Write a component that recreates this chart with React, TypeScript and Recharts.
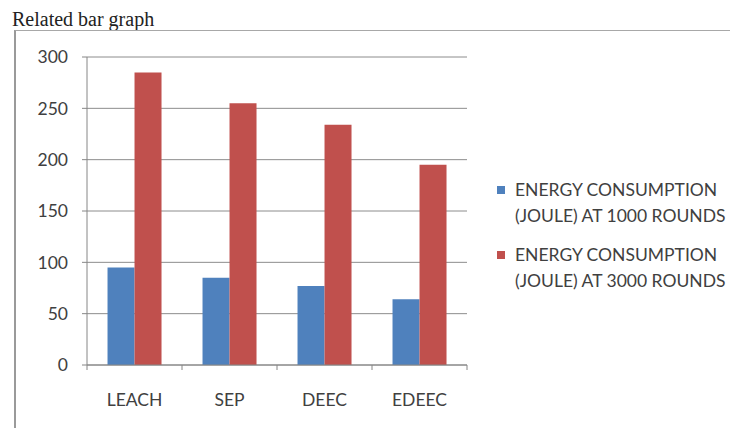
import React from 'react';
import { BarChart, Bar, XAxis, YAxis, CartesianGrid, Legend } from 'recharts';

const protocols = ['LEACH', 'SEP', 'DEEC', 'EDEEC'];
const energyAt1000 = [95, 85, 77, 64];
const energyAt3000 = [285, 255, 234, 195];
const yTicks = [0, 50, 100, 150, 200, 250, 300];
const seriesNames = [
  ['ENERGY CONSUMPTION', '(JOULE) AT 1000 ROUNDS'],
  ['ENERGY CONSUMPTION', '(JOULE) AT 3000 ROUNDS'],
];

const BLUE = '#4F81BD';
const RED = '#C0504D';
const AXIS_FONT = 'Lato, "Open Sans", sans-serif';

const data = protocols.map((name, i) => ({
  name,
  e1000: energyAt1000[i],
  e3000: energyAt3000[i],
}));

// category tick: label below, small marks on the band boundaries
const CategoryTick = (props: any) => {
  const { x, y, payload, index, width } = props;
  const half = width / protocols.length / 2;
  const axisY = y - 8;
  return (
    <g>
      <line x1={x - half} y1={axisY} x2={x - half} y2={axisY + 5} stroke="#868686" />
      {index === protocols.length - 1 && (
        <line x1={x + half} y1={axisY} x2={x + half} y2={axisY + 5} stroke="#868686" />
      )}
      <text x={x} y={axisY + 41} textAnchor="middle" fill="#404040" fontSize={17.5} fontFamily={AXIS_FONT}>
        {payload.value}
      </text>
    </g>
  );
};

const LegendBox = () => (
  <div style={{ fontFamily: AXIS_FONT, fontSize: 17.5, color: '#404040', lineHeight: '26px', whiteSpace: 'nowrap' }}>
    {seriesNames.map((lines, i) => (
      <div key={i} style={{ display: 'flex', alignItems: 'flex-start', marginBottom: i === 0 ? 13 : 0 }}>
        <span
          style={{
            display: 'inline-block',
            width: 8,
            height: 8,
            marginTop: 9,
            marginRight: 10,
            background: i === 0 ? BLUE : RED,
          }}
        />
        <div>
          {lines.map((l) => (
            <div key={l}>{l}</div>
          ))}
        </div>
      </div>
    ))}
  </div>
);

export default function App() {
  return (
    <div style={{ position: 'relative', margin: -8, width: 738, height: 436, background: '#fff', overflow: 'hidden' }}>
      <div
        style={{
          position: 'absolute',
          left: 12,
          top: 8,
          lineHeight: '23px',
          fontFamily: '"Liberation Serif", serif',
          fontSize: 20,
          color: '#222',
        }}
      >
        Related bar graph
      </div>
      <div
        style={{
          position: 'absolute',
          left: 14,
          top: 30,
          width: 740,
          height: 402,
          borderLeft: '2px solid #9a9a9a',
          borderTop: '1px solid #a8a8a8',
          borderBottom: '1px solid #c8c8c8',
        }}
      />
      <div style={{ position: 'absolute', left: 0, top: 0 }}>
        <BarChart
          width={738}
          height={436}
          data={data}
          margin={{ top: 57, right: 11, bottom: 31, left: 47 }}
          barCategoryGap="21.6%"
          barGap={0}
        >
          <CartesianGrid vertical={false} stroke="#8c8c8c" />
          <XAxis
            dataKey="name"
            height={40}
            axisLine={{ stroke: '#868686' }}
            tickLine={false}
            tick={<CategoryTick />}
            interval={0}
          />
          <YAxis
            width={40}
            domain={[0, 300]}
            ticks={yTicks}
            interval={0}
            axisLine={{ stroke: '#868686' }}
            tickLine={{ stroke: '#868686' }}
            tickSize={5}
            tickMargin={14}
            tick={{ fill: '#404040', fontSize: 17.5, fontFamily: AXIS_FONT }}
          />
          <Legend
            layout="vertical"
            align="right"
            verticalAlign="middle"
            content={<LegendBox />}
            wrapperStyle={{ width: 260, top: 177, paddingLeft: 30, boxSizing: 'border-box' }}
          />
          <Bar dataKey="e1000" fill={BLUE} isAnimationActive={false} />
          <Bar dataKey="e3000" fill={RED} isAnimationActive={false} />
        </BarChart>
      </div>
    </div>
  );
}
